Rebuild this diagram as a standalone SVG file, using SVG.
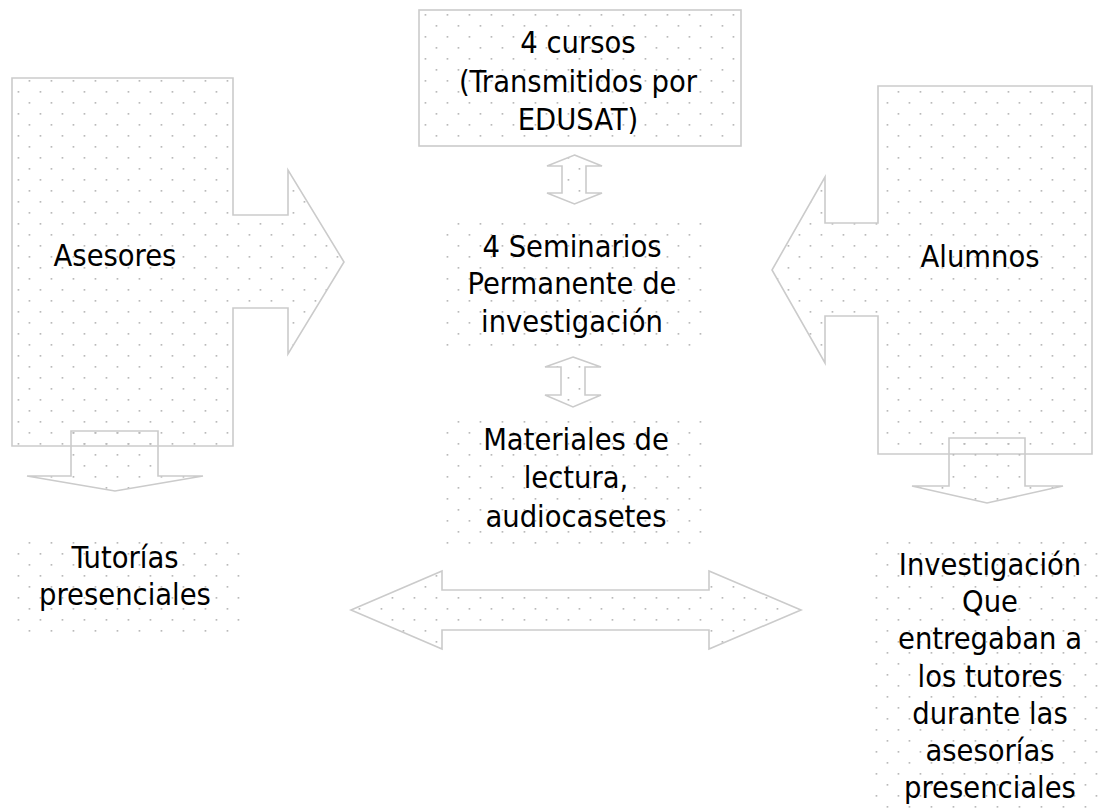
<svg xmlns="http://www.w3.org/2000/svg" width="1101" height="809" viewBox="0 0 1101 809">
<defs>
<pattern id="dots" patternUnits="userSpaceOnUse" width="22" height="22">
<rect x="6.6" y="14" width="1.7" height="1.7" fill="#bababa"/>
<rect x="17.6" y="3" width="1.7" height="1.7" fill="#bababa"/>
</pattern>
</defs>
<style>
.shape{fill:url(#dots);stroke:#cbcbcb;stroke-width:1.6;stroke-linejoin:miter}
.area{fill:url(#dots);stroke:none}
text{font-family:"DejaVu Sans Condensed","DejaVu Sans",sans-serif;font-stretch:condensed;font-size:30.5px;fill:#000;text-anchor:middle}
</style>
<rect width="1101" height="809" fill="#fff"/>
<g id="asesores">
<path class="shape" d="M12,78 H233 V215 H288 V170 L344,262 L288,354 V308 H233 V446 H12 Z"/>
<text x="115" y="266">Asesores</text>
</g>
<g id="alumnos">
<path class="shape" d="M878,86 H1092 V454 H878 V316 H825 V363 L772,270 L825,177 V223 H878 Z"/>
<text x="980" y="267">Alumnos</text>
</g>
<g id="cursos">
<rect class="shape" x="419" y="10" width="322" height="136"/>
<text x="578" y="53">4 cursos</text>
<text x="578" y="92">(Transmitidos por</text>
<text x="578" y="130">EDUSAT)</text>
</g>
<g id="seminarios">
<rect class="area" x="438" y="218" width="267" height="132"/>
<text x="572" y="257">4 Seminarios</text>
<text x="572" y="294">Permanente de</text>
<text x="572" y="332">investigación</text>
</g>
<g id="materiales">
<rect class="area" x="440" y="413" width="265" height="134"/>
<text x="576" y="450">Materiales de</text>
<text x="576" y="488">lectura,</text>
<text x="576" y="527">audiocasetes</text>
</g>
<g id="tutorias">
<rect class="area" x="9" y="533" width="233" height="99"/>
<text x="125" y="568">Tutorías</text>
<text x="125" y="605">presenciales</text>
</g>
<g id="investigacion">
<rect class="area" x="868" y="533" width="233" height="276"/>
<text x="990" y="575">Investigación</text>
<text x="990" y="612">Que</text>
<text x="990" y="649">entregaban a</text>
<text x="990" y="687">los tutores</text>
<text x="990" y="724">durante las</text>
<text x="990" y="761">asesorías</text>
<text x="990" y="798">presenciales</text>
</g>
<g id="connectors">
<path class="shape" d="M71,431 H158 V476 H203 L115,491 L27,476 H71 Z"/>
<path class="shape" d="M949,438 H1025 V486 H1063 L987,503 L912,486 H949 Z"/>
<path class="shape" d="M574.5,155 L602,166 H586 V193 H602 L574.5,204 L547,193 H562 V166 H547 Z"/>
<path class="shape" d="M573,357 L601,367 H585 V395 H601 L573,407 L545,395 H561 V367 H545 Z"/>
<path class="shape" d="M351,610 L442,571 V590 H709 V571 L801,610 L709,649 V630 H442 V649 Z"/>
</g>
</svg>
